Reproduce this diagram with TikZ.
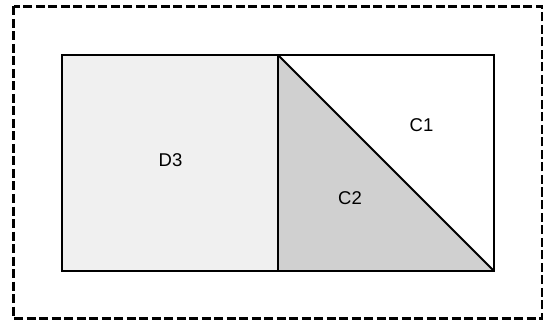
\documentclass[tikz,border=0pt]{standalone}
\usepackage{fontspec}
\setmainfont{Liberation Sans}
\usepackage{tikz}
\usetikzlibrary{positioning,calc}

\definecolor{lightfill}{HTML}{F0F0F0}
\definecolor{darkfill}{HTML}{D0D0D0}

\begin{document}
\begin{tikzpicture}[
  x=1pt, y=-1pt,
  font=\fontsize{18.5pt}{21pt}\selectfont,
  part/.style={draw,line width=2pt,line join=miter},
  frame/.style={draw,line width=2.6pt,dash pattern=on 9pt off 3.5pt},
  lbl/.style={inner sep=0pt}
]
\useasboundingbox (0,0) rectangle (553,320);
% corners of the block
\coordinate (tl) at (62,55);
\coordinate (tm) at (278,55);
\coordinate (tr) at (494,55);
\coordinate (bl) at (62,271);
\coordinate (bm) at (278,271);
\coordinate (br) at (494,271);
\fill[lightfill] (tl) rectangle (bm);
\fill[darkfill] (tm) -- (br) -- (bm) -- cycle;
\draw[part] (tl) rectangle (br);
\draw[part] (tm) -- (bm);
\draw[part] (tm) -- (br);
\node[lbl] (d3) at (170.5,160) {D3};
\node[lbl] (c1) at (421.5,125) {C1};
\node[lbl] (c2) at (350,198.5) {C2};
% outer boundary
\draw[frame] (13.5,6.5) rectangle (542,318.5);
\end{tikzpicture}
\end{document}
